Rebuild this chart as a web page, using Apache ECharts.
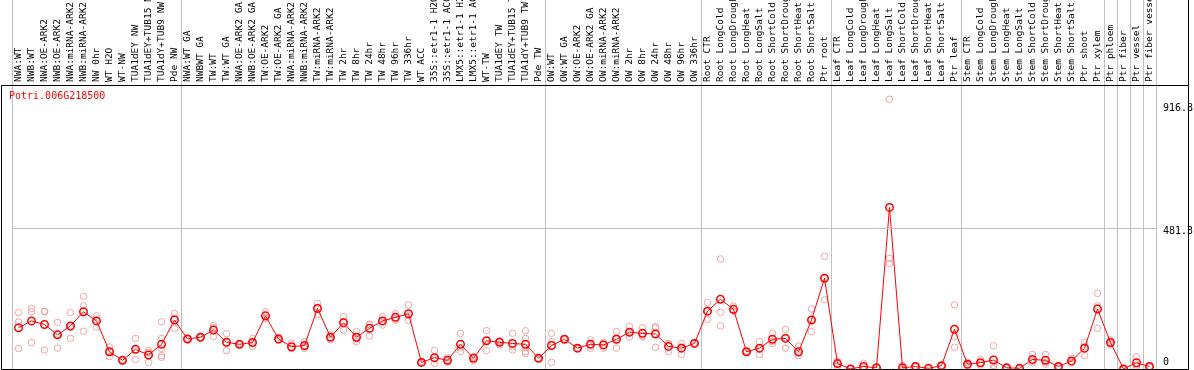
<!DOCTYPE html>
<html><head><meta charset="utf-8">
<script src="https://cdn.jsdelivr.net/npm/echarts@6/dist/echarts.min.js"></script>
<style>html,body{margin:0;padding:0;background:#fff}#c{width:1194px;height:370px}</style>
</head><body><div id="c"></div>
<script>
const geneId = 'Potri.006G218500';
const categories = [
 'NWA:WT','NWB:WT','NWA:OE-ARK2','NWB:OE-ARK2','NWA:miRNA-ARK2','NWB:miRNA-ARK2','NW 0hr','WT H2O','WT-NW','TUA1dEY NW',
 'TUA1dEY+TUB15 NW','TUA1dY+TUB9 NW','Pde NW','NWA:WT GA','NWBWT GA','TW:WT','TW:WT GA','NWA:OE-ARK2 GA','NWB:OE-ARK2 GA','TW:OE-ARK2',
 'TW:OE-ARK2 GA','NWA:miRNA-ARK2','NWB:miRNA-ARK2','TW:miRNA-ARK2','TW:miRNA-ARK2','TW 2hr','TW 8hr','TW 24hr','TW 48hr','TW 96hr',
 'TW 336hr','WT ACC','35S::etr1-1 H2O','35S::etr1-1 ACC','LMX5::etr1-1 H2O','LMX5::etr1-1 ACC','WT-TW','TUA1dEY TW','TUA1dEY+TUB15 TW','TUA1dY+TUB9 TW',
 'Pde TW','OW:WT','OW:WT GA','OW:OE-ARK2','OW:OE-ARK2 GA','OW:miRNA-ARK2','OW:miRNA-ARK2','OW 2hr','OW 8hr','OW 24hr',
 'OW 48hr','OW 96hr','OW 336hr','Root CTR','Root LongCold','Root LongDrought','Root LongHeat','Root LongSalt','Root ShortCold','Root ShortDrought',
 'Root ShortHeat','Root ShortSalt','Ptr root','Leaf CTR','Leaf LongCold','Leaf LongDrought','Leaf LongHeat','Leaf LongSalt','Leaf ShortCold','Leaf ShortDrought',
 'Leaf ShortHeat','Leaf ShortSalt','Ptr leaf','Stem CTR','Stem LongCold','Stem LongDrought','Stem LongHeat','Stem LongSalt','Stem ShortCold','Stem ShortDrought',
 'Stem ShortHeat','Stem ShortSalt','Ptr shoot','Ptr xylem','Ptr phloem','Ptr fiber','Ptr vessel','Ptr fiber vessel'
];
const means = [
 146,169,157,122,152,200,169,65,36,73,
 54,90,172,108,114,138,97,90,96,186,
 108,82,86,211,114,163,114,144,169,181,
 193,29,45,36,90,43,102,97,93,90,
 43,86,107,77,90,88,107,131,127,125,
 83,77,93,202,242,208,65,77,107,110,
 65,172,313,25,7,15,11,552,11,15,
 9,18,141,23,28,37,11,9,39,36,
 15,34,77,209,96,7,28,15
];
const replicates = [
 [197,165,76],[211,200,96],[201,200,71],[164,124,77],[197,148,110],[252,220,134],[186,172,148],[81,65,49],[38,36,34],[110,71,39],
 [69,62,29],[166,110,76,52,46],[194,178,144],[110,108,106],[115,113,113],[153,146,116],[126,96,69],[92,90,88],[110,95,82],[200,179,178],
 [114,105,105],[93,77,76],[99,82,76],[228,215,191],[122,114,105],[183,167,138],[133,109,99],[158,156,118],[183,168,155],[194,178,171],
 [223,187,171],[31,29,28],[69,41,26],[45,36,29],[127,78,65],[48,46,34],[136,103,69],[102,100,88],[127,82,71],[136,110,80,65,59],
 [44,43,41],[127,99,29],[108,107,106],[78,76,75],[105,89,77],[97,90,77],[133,112,77],[150,128,114],[146,119,116],[150,145,80],
 [93,91,65],[93,80,56],[95,93,92],[231,202,174],[378,198,152],[219,203,202],[67,65,64],[99,74,56],[127,100,93],[141,113,77],
 [84,60,52],[209,174,133],[387,312,240],[34,24,16],[8,7,5],[26,12,6],[12,11,11],[916.8,380,363],[18,11,5],[16,15,13],
 [10,9,8],[19,18,17],[223,116,80],[29,22,18],[39,26,20],[85,18,9],[12,11,10],[10,9,8],[56,34,28],[56,29,23],
 [16,15,13],[43,32,27],[96,82,52],[262,220,144],[105,94,88],[8,7,6],[48,20,15],[16,15,13]
];
const yTickValues = [0, 481.3, 916.8];
const yTickLabels = ['0', '481.3', '916.8'];
const groupStarts = [0, 13, 41, 53, 63, 73, 84, 85, 86, 87];

const repPoints = [];
replicates.forEach((arr, i) => arr.forEach(v => repPoints.push([i, v])));

const mono = 'DejaVu Sans Mono';
const gridSplit = {show: true, interval: (idx) => groupStarts.includes(idx), lineStyle: {color: '#c0c0c0', width: 1}};
const labelStyles = ['z', 'm', 't'];

const chart = echarts.init(document.getElementById('c'), null, {renderer: 'canvas'});
chart.setOption({
  animation: false,
  backgroundColor: '#fff',
  title: {text: geneId, left: 9, top: 91, padding: 0,
    textStyle: {color: '#ff0000', fontSize: 10, fontWeight: 'normal', fontFamily: mono}},
  grid: [
    {left: 12, width: 1144, top: 85, height: 286, containLabel: false, outerBoundsMode: 'none'},
    {left: 12, width: 1144, top: 0, height: 85, containLabel: false, outerBoundsMode: 'none'}
  ],
  xAxis: [
    {type: 'category', gridIndex: 0, data: categories, position: 'top', boundaryGap: true,
      axisLine: {show: true, lineStyle: {color: '#000', width: 1}},
      axisTick: {show: false},
      axisLabel: {show: true, interval: 0, rotate: 90, margin: 3, color: '#000', fontSize: 9.5, fontFamily: mono, hideOverlap: false},
      splitLine: gridSplit},
    {type: 'category', gridIndex: 1, data: categories, boundaryGap: true,
      axisLine: {show: false}, axisTick: {show: false}, axisLabel: {show: false},
      splitLine: gridSplit}
  ],
  yAxis: [
    {type: 'value', gridIndex: 0, position: 'right', min: 0, max: 965,
      axisLine: {show: false}, axisTick: {show: false}, splitLine: {show: false},
      axisLabel: {show: true, customValues: yTickValues, margin: 7, color: '#000', fontSize: 10, fontFamily: mono,
        formatter: (v) => {
          let k = 0;
          yTickValues.forEach((t, j) => { if (Math.abs(t - v) < 1e-6) k = j; });
          return '{' + labelStyles[k] + '|' + yTickLabels[k] + '}';
        },
        rich: {
          z: {padding: [0, 0, 18, 0], fontSize: 10, fontFamily: mono, color: '#000'},
          m: {padding: [7, 0, 0, 0], fontSize: 10, fontFamily: mono, color: '#000'},
          t: {padding: [18, 0, 0, 0], fontSize: 10, fontFamily: mono, color: '#000'}
        }}},
    {type: 'value', gridIndex: 1, show: false}
  ],
  series: [
    {type: 'scatter', xAxisIndex: 0, yAxisIndex: 0, data: repPoints, symbol: 'circle', symbolSize: 6.5,
      itemStyle: {color: 'rgba(0,0,0,0)', borderColor: '#f09090', borderWidth: 1}, z: 2},
    {type: 'line', xAxisIndex: 0, yAxisIndex: 0, data: means, symbol: 'circle', symbolSize: 7.5, showAllSymbol: true,
      lineStyle: {color: '#ff0000', width: 1},
      itemStyle: {color: 'rgba(0,0,0,0)', borderColor: '#ff0000', borderWidth: 1.5}, z: 3,
      markLine: {silent: true, symbol: 'none', label: {show: false},
        lineStyle: {color: '#c0c0c0', type: 'solid', width: 1},
        data: [{yAxis: yTickValues[1]}]}}
  ],
  graphic: [
    {type: 'rect', shape: {x: 1.5, y: 85.5, width: 1187, height: 284}, style: {fill: 'none', stroke: '#000', lineWidth: 1}, z: 10},
    {type: 'line', shape: {x1: 1188.5, y1: 0, x2: 1188.5, y2: 85}, style: {stroke: '#000', lineWidth: 1}, z: 10}
  ]
});
</script>
</body></html>
